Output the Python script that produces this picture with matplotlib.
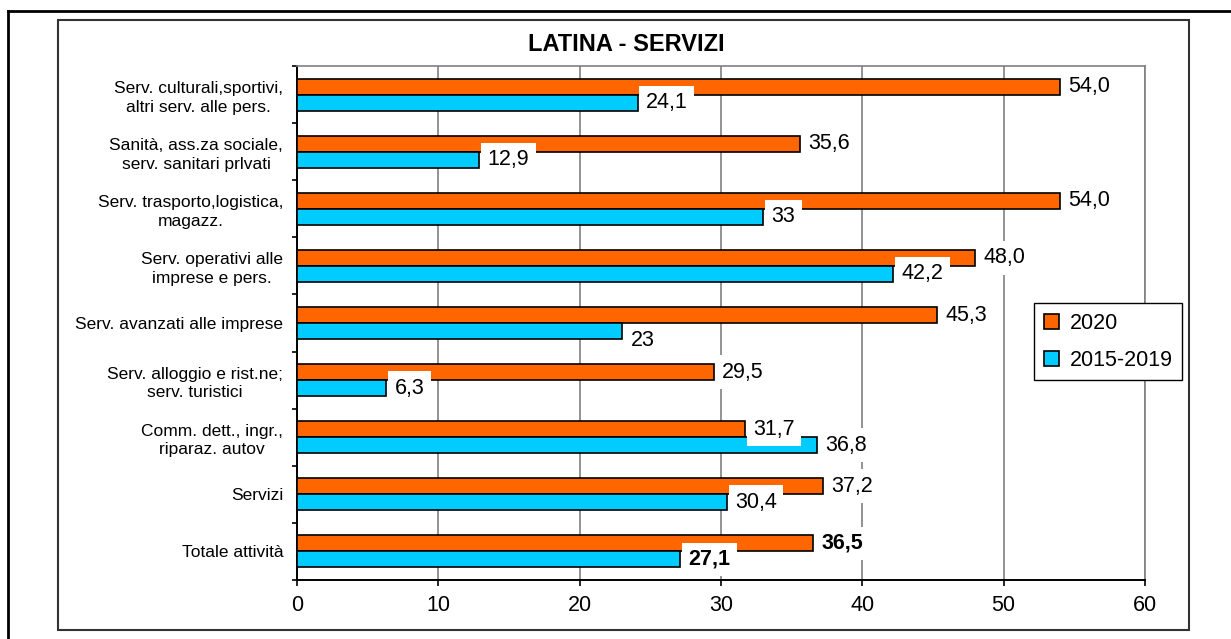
import numpy as np
import matplotlib
matplotlib.use("Agg")
import matplotlib.pyplot as plt
from matplotlib.patches import Rectangle, Patch
from matplotlib.lines import Line2D

plt.rcParams['font.family'] = ['Liberation Sans', 'DejaVu Sans']

# data (top to bottom as in the chart)
categorie = [
    "Serv. culturali,sportivi,\naltri serv. alle pers.",
    "Sanità, ass.za sociale,\nserv. sanitari prlvati",
    "Serv. trasporto,logistica,\nmagazz.",
    "Serv. operativi alle\nimprese e pers.",
    "Serv. avanzati alle imprese",
    "Serv. alloggio e rist.ne;\nserv. turistici",
    "Comm. dett., ingr.,\nriparaz. autov",
    "Servizi",
    "Totale attività",
]
val_2020 = [54.0, 35.6, 54.0, 48.0, 45.3, 29.5, 31.7, 37.2, 36.5]
val_1519 = [24.1, 12.9, 33.0, 42.2, 23.0, 6.3, 36.8, 30.4, 27.1]
lab_2020 = ["54,0", "35,6", "54,0", "48,0", "45,3", "29,5", "31,7", "37,2", "36,5"]
lab_1519 = ["24,1", "12,9", "33", "42,2", "23", "6,3", "36,8", "30,4", "27,1"]
serie = ["2020", "2015-2019"]
xticks = [0, 10, 20, 30, 40, 50, 60]

ORANGE = '#FF6600'
CYAN = '#00CCFF'
GRID = '#808080'

fig = plt.figure(figsize=(12.31, 6.39), dpi=100)
ax = fig.add_axes([0.2413, 0.0923, 0.6888, 0.8044])

y = np.arange(len(categorie))
h = 0.28
ax.barh(y - h / 2, val_2020, height=h, color=ORANGE, edgecolor='black', linewidth=1.2, zorder=3)
ax.barh(y + h / 2, val_1519, height=h, color=CYAN, edgecolor='black', linewidth=1.2, zorder=3)

ax.set_xlim(0, 60)
ax.set_ylim(len(categorie) - 0.5, -0.5)

# data labels with white box
box = dict(boxstyle='square,pad=0.3', fc='white', ec='none')
nudge = {4: -7}  # "23" sits a bit lower
for i in range(len(categorie)):
    w = 'bold' if i == len(categorie) - 1 else 'normal'
    ax.annotate(lab_2020[i], (val_2020[i], y[i] - h / 2), xytext=(6, 0),
                textcoords='offset points', ha='left', va='center',
                fontsize=15.5, fontweight=w, bbox=box, zorder=6)
    ax.annotate(lab_1519[i], (val_1519[i], y[i] + h / 2), xytext=(6, nudge.get(i, 0)),
                textcoords='offset points', ha='left', va='center',
                fontsize=15.5, fontweight=w, bbox=box, zorder=5)

# axes styling
ax.set_xticks(xticks)
ax.set_xticklabels([str(t) for t in xticks], fontsize=15.5)
ax.tick_params(axis='x', direction='out', length=4.5, width=1.2, pad=6, color='black')
ax.set_yticks(y)
ax.set_yticklabels(categorie, fontsize=12.5, linespacing=1.3, multialignment='center')
ax.tick_params(axis='y', which='major', length=0, pad=10)
ax.set_yticks(np.arange(len(categorie) + 1) - 0.5, minor=True)
ax.tick_params(axis='y', which='minor', direction='out', length=3.6, width=1.2, color='black')

ax.xaxis.grid(True, color=GRID, linewidth=1.2)
ax.set_axisbelow(True)
ax.spines['left'].set_color('black')
ax.spines['bottom'].set_color('black')
ax.spines['left'].set_linewidth(1.4)
ax.spines['bottom'].set_linewidth(1.4)
ax.spines['top'].set_color(GRID)
ax.spines['right'].set_color(GRID)
ax.spines['top'].set_linewidth(1.2)
ax.spines['right'].set_linewidth(1.2)

# title
fig.text(0.5085, 0.9296, "LATINA - SERVIZI", ha='center', va='center',
         fontsize=17, fontweight='bold')

# legend
handles = [Patch(facecolor=ORANGE, edgecolor='black', linewidth=1.2),
           Patch(facecolor=CYAN, edgecolor='black', linewidth=1.2)]
leg = fig.legend(handles, serie, loc='upper left', bbox_to_anchor=(0.840, 0.526),
                 bbox_transform=fig.transFigure, borderaxespad=0, fontsize=15.5,
                 handlelength=0.7, handleheight=0.7, handletextpad=0.5,
                 labelspacing=0.75, borderpad=0.45, fancybox=False,
                 framealpha=1, edgecolor='black')
leg.get_frame().set_linewidth(1.0)

# chart borders
fig.add_artist(Rectangle((0.0471, 0.0141), 0.9188, 0.9546, transform=fig.transFigure,
                         fill=False, edgecolor='#333333', linewidth=1.5))
fig.add_artist(Line2D([0.0065, 0.0065], [0.0, 0.9828], transform=fig.transFigure,
                      color='black', linewidth=2.0))
fig.add_artist(Line2D([0.0065, 1.0], [0.9828, 0.9828], transform=fig.transFigure,
                      color='black', linewidth=2.0))

fig.savefig("out.png", dpi=100)
